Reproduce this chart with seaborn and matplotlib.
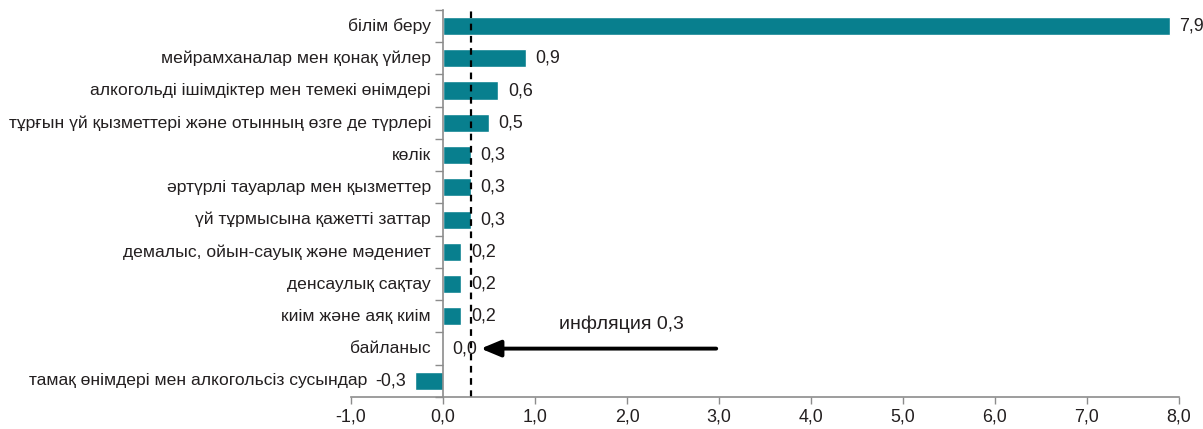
import matplotlib
matplotlib.use("Agg")
import matplotlib.pyplot as plt
import seaborn as sns
import numpy as np

# Data
categories = [
    "білім беру",
    "мейрамханалар мен қонақ үйлер",
    "алкогольді ішімдіктер мен темекі өнімдері",
    "тұрғын үй қызметтері және отынның өзге де түрлері",
    "көлік",
    "әртүрлі тауарлар мен қызметтер",
    "үй тұрмысына қажетті заттар",
    "демалыс, ойын-сауық және мәдениет",
    "денсаулық сақтау",
    "киім және аяқ киім",
    "байланыс",
    "тамақ өнімдері мен алкогольсіз сусындар",
]
values = [7.9, 0.9, 0.6, 0.5, 0.3, 0.3, 0.3, 0.2, 0.2, 0.2, 0.0, -0.3]
inflation = 0.3
xticks = [-1, 0, 1, 2, 3, 4, 5, 6, 7, 8]

def comma(v):
    return f"{v:.1f}".replace(".", ",")

sns.set_style("white")
plt.rcParams["font.family"] = ["Liberation Sans", "DejaVu Sans"]
bar_color = "#087F8E"
text_color = "#231F20"
axis_color = "#8C8C8C"
fs = 12.9

fig = plt.figure(figsize=(12.03, 4.29), dpi=100)
ax = fig.add_axes([0.2918, 0.0746, 0.980 - 0.2918, 0.977 - 0.0746])

sns.barplot(x=values, y=categories, orient="h", color=bar_color,
            width=0.56, saturation=1, ax=ax)

ax.set_xlim(-1, 8)
ax.set_ylim(len(categories) - 0.5, -0.5)

# value labels
ax.bar_label(ax.containers[0], labels=[comma(v) for v in values],
             padding=7, fontsize=fs, color=text_color)

# category labels left of the bars
ax.set_yticks([])
for i, (cat, v) in enumerate(zip(categories, values)):
    xpos = v - 0.52 if v < 0 else -0.13
    ax.text(xpos, i, cat, ha="right", va="center", fontsize=12.6, color=text_color)

# minor ticks between categories on the zero axis
ax.set_yticks(np.arange(-0.5, len(categories), 1), minor=True)
ax.tick_params(axis="y", which="minor", length=6, width=1, color=axis_color, direction="out", left=True)

ax.set_xticks(xticks)
ax.set_xticklabels([comma(t) for t in xticks], fontsize=fs, color=text_color)
ax.tick_params(axis="x", length=5, width=1, color=axis_color, direction="out", bottom=True, pad=3)

for side in ["top", "right"]:
    ax.spines[side].set_visible(False)
ax.spines["left"].set_position(("data", 0))
ax.spines["left"].set_color(axis_color)
ax.spines["bottom"].set_color(axis_color)
ax.spines["left"].set_linewidth(1.2)
ax.spines["bottom"].set_linewidth(1.2)

# inflation line
ax.axvline(inflation, color="black", linestyle=(0, (3, 2.5)), linewidth=1.6)

# annotation arrow
ax.annotate("", xy=(0.38, 10), xytext=(3.0, 10),
            arrowprops=dict(arrowstyle="-|>,head_length=1.2,head_width=0.5",
                            color="black", lw=2.8))
ax.text(1.94, 9.25, "инфляция " + comma(inflation), ha="center", va="center",
        fontsize=14, color=text_color)

fig.savefig("out.png", dpi=100)
